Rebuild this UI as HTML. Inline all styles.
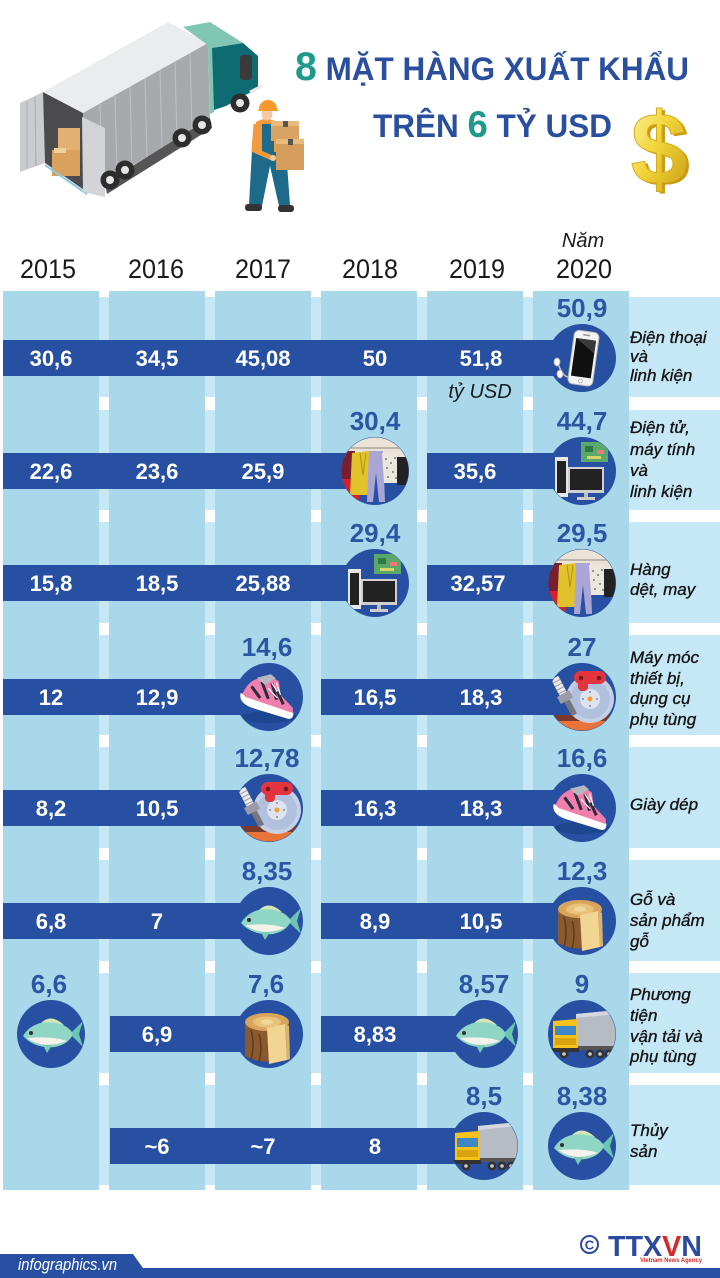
<!DOCTYPE html>
<html><head><meta charset="utf-8">
<style>
html,body{margin:0;padding:0;background:#fff;}
svg{display:block;}
.v{font-family:"Liberation Sans",sans-serif;font-weight:bold;font-size:22px;fill:#fff;text-anchor:middle;}
.c{font-family:"Liberation Sans",sans-serif;font-weight:bold;font-size:26px;fill:#2b56a3;text-anchor:middle;}
.l{font-family:"Liberation Sans",sans-serif;font-style:italic;font-size:17px;fill:#141414;stroke:#141414;stroke-width:0.35;}
.y{font-family:"Liberation Sans",sans-serif;font-size:27px;fill:#1a1a1a;text-anchor:middle;}
.ti{font-family:"Liberation Sans Narrow","Liberation Sans",sans-serif;font-weight:bold;fill:#2a4f9f;}
</style></head><body>
<svg width="720" height="1278" viewBox="0 0 720 1278">
<defs>
<clipPath id="cc"><circle r="33.5"/></clipPath>
<linearGradient id="gold" x1="0" y1="0" x2="1" y2="1">
<stop offset="0" stop-color="#fff6a8"/><stop offset="0.45" stop-color="#f1d53a"/><stop offset="1" stop-color="#c99a12"/>
</linearGradient>

<g id="phone">
 <path d="M-24,6 C-20,16 -16,22 -8,18" stroke="#c8c8c8" stroke-width="1.5" fill="none"/>
 <ellipse cx="-25" cy="4" rx="3" ry="4" fill="#fff" stroke="#aaa" stroke-width="0.8"/>
 <ellipse cx="-22" cy="16" rx="3" ry="4" fill="#fff" stroke="#aaa" stroke-width="0.8"/>
 <g transform="rotate(8)">
  <rect x="-11" y="-27" width="25" height="54" rx="5" fill="#f4f4f4" stroke="#b5b5b5" stroke-width="1"/>
  <rect x="-8.5" y="-19" width="20" height="38" fill="#111"/>
  <path d="M-8.5,-19 L11.5,-19 L11.5,-6 Z" fill="#3a3a3a"/>
  <circle cx="1.5" cy="23" r="2" fill="none" stroke="#aaa" stroke-width="0.8"/>
  <rect x="-2" y="-24" width="7" height="1.5" fill="#999"/>
 </g>
</g>

<g id="clothes">
 <rect x="-34" y="-34" width="68" height="20" fill="#ebe4d6"/>
 <rect x="-34" y="-24" width="68" height="2" fill="#b9b4aa"/>
 <rect x="-34" y="-20" width="14" height="30" fill="#7a1d2e"/>
 <rect x="-34" y="8" width="18" height="30" fill="#d8202c"/>
 <path d="M-23,-18 L-6,-20 L-4,24 L-25,24 Z" fill="#e2c22a"/>
 <path d="M-15,-18 L-12,4 L-9,-18" fill="none" stroke="#b09410" stroke-width="1"/>
 <path d="M-6,-20 L8,-20 L10,31 L4,31 L1,2 L-2,31 L-8,31 Z" fill="#a9a6d6"/>
 <path d="M7,-18 L22,-18 L24,12 L9,12 Z" fill="#ece7dd"/>
 <g fill="#555"><circle cx="11" cy="-12" r="0.9"/><circle cx="16" cy="-8" r="0.9"/><circle cx="20" cy="-13" r="0.9"/><circle cx="12" cy="-3" r="0.9"/><circle cx="18" cy="1" r="0.9"/><circle cx="13" cy="6" r="0.9"/><circle cx="21" cy="7" r="0.9"/></g>
 <rect x="22" y="-14" width="14" height="28" fill="#222"/>
</g>

<g id="comp">
 <rect x="-27" y="-14" width="13" height="40" fill="#e6e6e6"/>
 <rect x="-25" y="-10" width="9" height="32" fill="#222"/>
 <rect x="-1" y="-29" width="27" height="20" fill="#5aa86a"/>
 <rect x="3" y="-25" width="8" height="6" fill="#2f7a44"/>
 <rect x="15" y="-21" width="7" height="4" fill="#e77"/>
 <rect x="5" y="-15" width="14" height="3" fill="#d9d36a"/>
 <rect x="-14" y="-4" width="36" height="26" fill="#d0d0d0"/>
 <rect x="-12" y="-2" width="32" height="21" fill="#222"/>
 <rect x="2" y="22" width="4" height="5" fill="#bbb"/>
 <rect x="-5" y="26" width="18" height="3" fill="#ccc"/>
</g>

<g id="shoe">
 <ellipse cx="0" cy="20" rx="28" ry="6" fill="#1d4690"/>
 <g transform="rotate(20)">
  <path d="M-28,6 Q-27,16 -12,16 L26,14 Q31,12 28,6 Z" fill="#fff"/>
  <path d="M-26,6 Q-25,-8 -16,-14 L-4,-20 L4,-18 L10,-6 L26,2 L28,7 L-22,8 Z" fill="#f07fae"/>
  <path d="M-20,-4 L-8,4 M-12,-12 L0,2 M-2,-14 L8,0 M6,-8 L16,2" stroke="#2c2c3c" stroke-width="3"/>
  <path d="M-18,-14 L-6,-22 L0,-20 L-8,-10 Z" fill="#b8b8c0"/>
  <path d="M-2,-14 L6,-8 M2,-16 L10,-6 M-4,-8 L8,-2" stroke="#fff" stroke-width="1.2"/>
 </g>
</g>

<g id="mach">
 <rect x="-34" y="18" width="68" height="6" fill="#7a3b2a"/>
 <rect x="-34" y="24" width="68" height="12" fill="#e8743a"/>
 <circle cx="8" cy="2" r="24" fill="#c5d0e6"/>
 <circle cx="8" cy="2" r="20" fill="#b1c0dc"/>
 <circle cx="8" cy="2" r="10" fill="#dde4f0"/>
 <circle cx="8" cy="2" r="2.5" fill="#f0a030"/>
 <g fill="#7f8ba6"><circle cx="8" cy="-5" r="1"/><circle cx="15" cy="2" r="1"/><circle cx="8" cy="9" r="1"/><circle cx="1" cy="2" r="1"/></g>
 <rect x="-8" y="-26" width="32" height="13" rx="6.5" fill="#e2353d"/>
 <rect x="-4" y="-16" width="10" height="10" rx="4" fill="#e2353d"/>
 <circle cx="-1" cy="-19" r="2.3" fill="#7a1a20"/>
 <circle cx="17" cy="-19" r="2.3" fill="#7a1a20"/>
 <g transform="rotate(-28 -16 2)">
  <rect x="-20" y="-22" width="8" height="18" fill="#ececec"/>
  <path d="M-20,-18 H-12 M-20,-14 H-12 M-20,-10 H-12 M-20,-6 H-12" stroke="#9a9a9a" stroke-width="1"/>
  <rect x="-23" y="-4" width="14" height="8" fill="#9a9aa8"/>
  <rect x="-19" y="4" width="6" height="16" fill="#76767e"/>
 </g>
</g>

<g id="fish">
 <path d="M19,0 L32,-13 L28,0 L32,13 Z" fill="#6cc5b0"/>
 <path d="M-10,-11 Q0,-21 13,-9 Z" fill="#d6e7b6"/>
 <path d="M-28,2 Q-18,-15 6,-11 Q18,-8 22,0 Q18,10 4,13 Q-16,15 -28,2 Z" fill="#8fd6c4"/>
 <path d="M-24,4 Q-8,16 16,7 Q2,2 -24,4 Z" fill="#f4f2ea"/>
 <path d="M-8,11 L-4,19 L1,11 Z" fill="#7ccab5"/>
 <circle cx="-20" cy="-1" r="2" fill="#333"/>
</g>

<g id="wood">
 <path d="M-24,-12 L-24,22 Q-2,33 20,22 L20,-12 Z" fill="#8a5a2e"/>
 <path d="M-18,-4 Q-14,10 -18,26 M-10,0 Q-6,12 -10,28 M8,-2 Q12,10 8,28" stroke="#62391a" stroke-width="1.5" fill="none"/>
 <ellipse cx="-2" cy="-12" rx="22" ry="9" fill="#d7a55c"/>
 <ellipse cx="-2" cy="-12" rx="14" ry="5.5" fill="#e9c27a"/>
 <ellipse cx="-2" cy="-12" rx="6" ry="2.8" fill="#f0d69a"/>
 <path d="M-2,-6 L16,-10 L18,26 L0,30 Z" fill="#f2d592"/>
 <path d="M16,-10 L20,-8 L21,25 L18,26 Z" fill="#d9b46a"/>
</g>

<g id="truck">
 <path d="M-6,-20 L35,-24 L35,12 L-6,14 Z" fill="#b7bcc4"/>
 <path d="M-6,-20 L35,-24 L35,-20 L-6,-16 Z" fill="#d4d8de"/>
 <rect x="-6" y="12" width="41" height="4" fill="#555"/>
 <path d="M-29,-13 L-5,-15 L-4,18 L-29,18 Z" fill="#f5c31c"/>
 <rect x="-27" y="-8" width="21" height="9" fill="#3d86c8"/>
 <rect x="-27" y="4" width="21" height="7" fill="#dba40e"/>
 <rect x="-30" y="14" width="27" height="4" fill="#333"/>
 <g fill="#333"><circle cx="-18" cy="20" r="4.5"/><circle cx="8" cy="20" r="4.5"/><circle cx="18" cy="20" r="4.5"/><circle cx="27" cy="20" r="4.5"/></g>
 <g fill="#ccc"><circle cx="-18" cy="20" r="1.8"/><circle cx="8" cy="20" r="1.8"/><circle cx="18" cy="20" r="1.8"/><circle cx="27" cy="20" r="1.8"/></g>
</g>
</defs>

<rect x="0" y="0" width="720" height="1278" fill="#fff"/>

<!-- Header truck -->
<g>
 <polygon points="20,103 43,92 45,163 20,172" fill="#c9cbce"/>
 <path d="M27,101 L27,168 M35,97 L36,166" stroke="#a9abae" stroke-width="1"/>
 <polygon points="43,92 83,113 87,192 45,163" fill="#4b4b4d"/>
 <rect x="52" y="150" width="28" height="26" fill="#d8a25e"/>
 <rect x="58" y="128" width="22" height="22" fill="#e2b070"/>
 <rect x="54" y="148" width="12" height="5" fill="#f0cf98"/>
 <line x1="45" y1="165" x2="87" y2="194" stroke="#8fc8e0" stroke-width="2"/>
 <polygon points="43,92 168,22 208,43 83,113" fill="#ebeced"/>
 <polygon points="83,113 208,43 210,120 87,192" fill="#a7a9ac"/>
 <path d="M100,104 L102,183 M115,96 L117,174 M130,87 L132,166 M145,79 L147,157 M160,70 L162,149 M175,62 L177,140 M190,53 L192,131" stroke="#bcbec1" stroke-width="1.2"/>
 <polygon points="82,117 105,128 105,197 83,192" fill="#d2d4d7"/>
 <polygon points="105,183 210,118 212,128 107,194" fill="#555"/>
 <polygon points="183,27 210,22 243,43 212,48" fill="#80c6b2"/>
 <polygon points="208,45 214,48 214,112 210,114" fill="#80c6b2"/>
 <polygon points="212,48 243,43 258,56 258,88 226,106 214,110" fill="#0e6b72"/>
 <rect x="240" y="55" width="12" height="25" rx="3" fill="#3a3a3a"/>
 <line x1="250" y1="92" x2="262" y2="86" stroke="#e8e8e8" stroke-width="3"/>
 <g fill="#2d2d2d"><circle cx="240" cy="103" r="9.5"/><circle cx="202" cy="125" r="9.5"/><circle cx="182" cy="138" r="9.5"/><circle cx="125" cy="170" r="9.5"/><circle cx="110" cy="180" r="9.5"/></g>
 <g fill="#e6e6e6"><circle cx="240" cy="103" r="4"/><circle cx="202" cy="125" r="4"/><circle cx="182" cy="138" r="4"/><circle cx="125" cy="170" r="4"/><circle cx="110" cy="180" r="4"/></g>
</g>
<!-- worker -->
<g>
 <polygon points="252,150 286,150 290,205 279,206 270,166 262,206 249,205" fill="#1d6a8a"/>
 <rect x="245" y="204" width="17" height="7" rx="3" fill="#333"/>
 <rect x="278" y="205" width="16" height="7" rx="3" fill="#333"/>
 <path d="M256,122 Q266,116 277,122 L279,152 L254,152 Z" fill="#f39a3c"/>
 <rect x="262" y="124" width="12" height="28" fill="#1d6a8a"/>
 <ellipse cx="267" cy="114" rx="5.5" ry="6.5" fill="#f5c9a5"/>
 <path d="M259,109 A9,9 0 0 1 277,109 L279,111 L258,111 Z" fill="#f59a2a"/>
 <rect x="271" y="121" width="28" height="20" fill="#d9a463"/>
 <rect x="271" y="121" width="28" height="5" fill="#e8bb7c"/>
 <rect x="276" y="139" width="28" height="31" fill="#d49d5c"/>
 <rect x="276" y="139" width="28" height="5" fill="#e8bb7c"/>
 <rect x="283" y="121" width="5" height="6" fill="#555"/>
 <rect x="288" y="139" width="5" height="6" fill="#555"/>
 <path d="M256,124 L254,150 L272,158" stroke="#f39a3c" stroke-width="5" fill="none"/>
 <circle cx="273" cy="158" r="3" fill="#f5c9a5"/>
</g>

<!-- Title -->
<text x="295" y="80" class="ti" font-size="32" textLength="394" lengthAdjust="spacingAndGlyphs"><tspan fill="#1e9a8a" font-size="40">8</tspan> MẶT HÀNG XUẤT KHẨU</text>
<text x="373" y="137" class="ti" font-size="32" textLength="239" lengthAdjust="spacingAndGlyphs">TRÊN <tspan fill="#1e9a8a" font-size="37">6</tspan> TỶ USD</text>

<!-- Dollar -->
<text x="662" y="186" font-family="Liberation Sans,sans-serif" font-weight="bold" font-size="102" text-anchor="middle" fill="#c99a12">$</text>
<text x="659" y="184" font-family="Liberation Sans,sans-serif" font-weight="bold" font-size="102" text-anchor="middle" fill="url(#gold)" stroke="#d6ad1e" stroke-width="1">$</text>

<!-- Years -->
<text x="583" y="247" font-family="Liberation Sans,sans-serif" font-style="italic" font-size="20" fill="#1a1a1a" text-anchor="middle">Năm</text>
<text class="y" x="48" y="278" textLength="56" lengthAdjust="spacingAndGlyphs">2015</text>
<text class="y" x="156" y="278" textLength="56" lengthAdjust="spacingAndGlyphs">2016</text>
<text class="y" x="263" y="278" textLength="56" lengthAdjust="spacingAndGlyphs">2017</text>
<text class="y" x="370" y="278" textLength="56" lengthAdjust="spacingAndGlyphs">2018</text>
<text class="y" x="477" y="278" textLength="56" lengthAdjust="spacingAndGlyphs">2019</text>
<text class="y" x="584" y="278" textLength="56" lengthAdjust="spacingAndGlyphs">2020</text>

<!-- Row bands -->
<g fill="#c6e7f5">
 <rect x="3" y="297" width="717" height="100"/>
 <rect x="3" y="410" width="717" height="100"/>
 <rect x="3" y="522" width="717" height="101"/>
 <rect x="3" y="635" width="717" height="100"/>
 <rect x="3" y="747" width="717" height="101"/>
 <rect x="3" y="860" width="717" height="101"/>
 <rect x="3" y="973" width="717" height="100"/>
 <rect x="3" y="1085" width="717" height="100"/>
</g>
<!-- Column strips -->
<g fill="#a9d8ea">
 <rect x="3" y="291" width="96" height="899"/>
 <rect x="109" y="291" width="96" height="899"/>
 <rect x="215" y="291" width="96" height="899"/>
 <rect x="321" y="291" width="96" height="899"/>
 <rect x="427" y="291" width="96" height="899"/>
 <rect x="533" y="291" width="96" height="899"/>
</g>

<!-- Bars -->
<g fill="#2850a2">
 <rect x="3" y="340" width="579" height="36"/>
 <rect x="3" y="453" width="372" height="36"/>
 <rect x="427" y="453" width="155" height="36"/>
 <rect x="3" y="565" width="372" height="36"/>
 <rect x="427" y="565" width="155" height="36"/>
 <rect x="3" y="679" width="266" height="36"/>
 <rect x="321" y="679" width="261" height="36"/>
 <rect x="3" y="790" width="266" height="36"/>
 <rect x="321" y="790" width="261" height="36"/>
 <rect x="3" y="903" width="266" height="36"/>
 <rect x="321" y="903" width="261" height="36"/>
 <rect x="110" y="1016" width="159" height="36"/>
 <rect x="321" y="1016" width="163" height="36"/>
 <rect x="110" y="1128" width="374" height="36"/>
</g>

<!-- Circles -->
<g transform="translate(582,358)"><circle r="34" fill="#2850a2"/><g clip-path="url(#cc)"><use href="#phone"/></g></g>
<g transform="translate(375,471)"><circle r="34" fill="#2850a2"/><g clip-path="url(#cc)"><use href="#clothes"/></g></g>
<g transform="translate(582,471)"><circle r="34" fill="#2850a2"/><g clip-path="url(#cc)"><use href="#comp"/></g></g>
<g transform="translate(375,583)"><circle r="34" fill="#2850a2"/><g clip-path="url(#cc)"><use href="#comp"/></g></g>
<g transform="translate(582,583)"><circle r="34" fill="#2850a2"/><g clip-path="url(#cc)"><use href="#clothes"/></g></g>
<g transform="translate(269,697)"><circle r="34" fill="#2850a2"/><g clip-path="url(#cc)"><use href="#shoe"/></g></g>
<g transform="translate(582,697)"><circle r="34" fill="#2850a2"/><g clip-path="url(#cc)"><use href="#mach"/></g></g>
<g transform="translate(269,808)"><circle r="34" fill="#2850a2"/><g clip-path="url(#cc)"><use href="#mach"/></g></g>
<g transform="translate(582,808)"><circle r="34" fill="#2850a2"/><g clip-path="url(#cc)"><use href="#shoe"/></g></g>
<g transform="translate(269,921)"><circle r="34" fill="#2850a2"/><g clip-path="url(#cc)"><use href="#fish"/></g></g>
<g transform="translate(582,921)"><circle r="34" fill="#2850a2"/><g clip-path="url(#cc)"><use href="#wood"/></g></g>
<g transform="translate(51,1034)"><circle r="34" fill="#2850a2"/><g clip-path="url(#cc)"><use href="#fish"/></g></g>
<g transform="translate(269,1034)"><circle r="34" fill="#2850a2"/><g clip-path="url(#cc)"><use href="#wood"/></g></g>
<g transform="translate(484,1034)"><circle r="34" fill="#2850a2"/><g clip-path="url(#cc)"><use href="#fish"/></g></g>
<g transform="translate(582,1034)"><circle r="34" fill="#2850a2"/><g clip-path="url(#cc)"><use href="#truck"/></g></g>
<g transform="translate(484,1146)"><circle r="34" fill="#2850a2"/><g clip-path="url(#cc)"><use href="#truck"/></g></g>
<g transform="translate(582,1146)"><circle r="34" fill="#2850a2"/><g clip-path="url(#cc)"><use href="#fish"/></g></g>

<!-- Circle values -->
<text class="c" x="582" y="317">50,9</text>
<text class="c" x="375" y="430">30,4</text>
<text class="c" x="582" y="430">44,7</text>
<text class="c" x="375" y="542">29,4</text>
<text class="c" x="582" y="542">29,5</text>
<text class="c" x="267" y="656">14,6</text>
<text class="c" x="582" y="656">27</text>
<text class="c" x="267" y="767">12,78</text>
<text class="c" x="582" y="767">16,6</text>
<text class="c" x="267" y="880">8,35</text>
<text class="c" x="582" y="880">12,3</text>
<text class="c" x="49" y="993">6,6</text>
<text class="c" x="266" y="993">7,6</text>
<text class="c" x="484" y="993">8,57</text>
<text class="c" x="582" y="993">9</text>
<text class="c" x="484" y="1105">8,5</text>
<text class="c" x="582" y="1105">8,38</text>

<!-- Bar values -->
<text class="v" x="51" y="366">30,6</text>
<text class="v" x="157" y="366">34,5</text>
<text class="v" x="263" y="366">45,08</text>
<text class="v" x="375" y="366">50</text>
<text class="v" x="481" y="366">51,8</text>
<text x="480" y="398" font-family="Liberation Sans,sans-serif" font-style="italic" font-size="20" fill="#1a1a1a" text-anchor="middle">tỷ USD</text>

<text class="v" x="51" y="479">22,6</text>
<text class="v" x="157" y="479">23,6</text>
<text class="v" x="263" y="479">25,9</text>
<text class="v" x="475" y="479">35,6</text>

<text class="v" x="51" y="591">15,8</text>
<text class="v" x="157" y="591">18,5</text>
<text class="v" x="263" y="591">25,88</text>
<text class="v" x="478" y="591">32,57</text>

<text class="v" x="51" y="705">12</text>
<text class="v" x="157" y="705">12,9</text>
<text class="v" x="375" y="705">16,5</text>
<text class="v" x="481" y="705">18,3</text>

<text class="v" x="51" y="816">8,2</text>
<text class="v" x="157" y="816">10,5</text>
<text class="v" x="375" y="816">16,3</text>
<text class="v" x="481" y="816">18,3</text>

<text class="v" x="51" y="929">6,8</text>
<text class="v" x="157" y="929">7</text>
<text class="v" x="375" y="929">8,9</text>
<text class="v" x="481" y="929">10,5</text>

<text class="v" x="157" y="1042">6,9</text>
<text class="v" x="375" y="1042">8,83</text>

<text class="v" x="157" y="1154">~6</text>
<text class="v" x="263" y="1154">~7</text>
<text class="v" x="375" y="1154">8</text>

<!-- Right labels -->
<text class="l" x="630" y="343">Điện thoại</text>
<text class="l" x="630" y="362">và</text>
<text class="l" x="630" y="381">linh kiện</text>

<text class="l" x="630" y="433">Điện tử,</text>
<text class="l" x="630" y="455">máy tính</text>
<text class="l" x="630" y="476">và</text>
<text class="l" x="630" y="497">linh kiện</text>

<text class="l" x="630" y="575">Hàng</text>
<text class="l" x="630" y="595">dệt, may</text>

<text class="l" x="630" y="663">Máy móc</text>
<text class="l" x="630" y="684">thiết bị,</text>
<text class="l" x="630" y="704">dụng cụ</text>
<text class="l" x="630" y="725">phụ tùng</text>

<text class="l" x="630" y="810">Giày dép</text>

<text class="l" x="630" y="905">Gỗ và</text>
<text class="l" x="630" y="926">sản phẩm</text>
<text class="l" x="630" y="947">gỗ</text>

<text class="l" x="630" y="1000">Phương</text>
<text class="l" x="630" y="1021">tiện</text>
<text class="l" x="630" y="1042">vận tải và</text>
<text class="l" x="630" y="1062">phụ tùng</text>

<text class="l" x="630" y="1136">Thủy</text>
<text class="l" x="630" y="1157">sản</text>

<!-- Footer -->
<path d="M0,1254 L133,1254 L143,1268 L720,1268 L720,1278 L0,1278 Z" fill="#2850a2"/>
<text x="18" y="1270" font-family="Liberation Sans,sans-serif" font-style="italic" font-size="17" fill="#fff" textLength="99" lengthAdjust="spacingAndGlyphs">infographics.vn</text>
<circle cx="589.5" cy="1244.5" r="8.5" fill="none" stroke="#2c4a9e" stroke-width="2"/>
<text x="589.5" y="1249.5" font-family="Liberation Sans,sans-serif" font-weight="bold" font-size="13" fill="#2c4a9e" text-anchor="middle">C</text>
<text x="608" y="1256" font-family="Liberation Sans Narrow,Liberation Sans,sans-serif" font-weight="bold" font-size="29" fill="#2c4a9e" textLength="94" lengthAdjust="spacingAndGlyphs">TTX<tspan fill="#d42a2a">V</tspan>N</text>
<text x="640" y="1262" font-family="Liberation Sans,sans-serif" font-weight="bold" font-size="6.5" fill="#d42a2a" textLength="62" lengthAdjust="spacingAndGlyphs">Vietnam News Agency</text>
</svg>
</body></html>
